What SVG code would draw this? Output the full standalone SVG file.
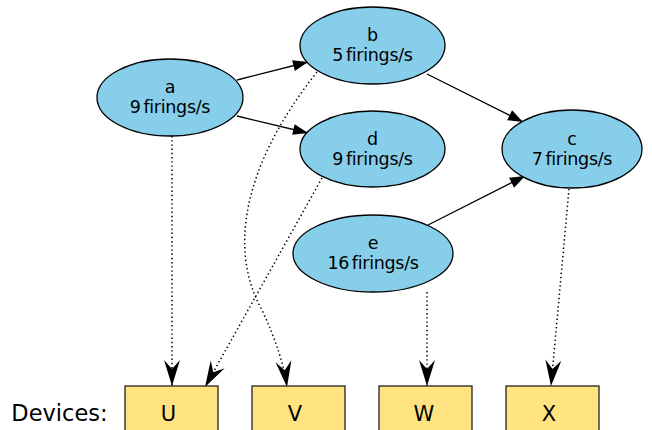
<svg xmlns="http://www.w3.org/2000/svg" width="652" height="430" viewBox="0 0 652 430">
<style>
.node ellipse{fill:#87ceeb;stroke:#000;stroke-width:1.3}
.dev rect{fill:#ffe381;stroke:#222;stroke-width:1.3}
text{font-family:"DejaVu Sans",sans-serif;fill:#000;text-anchor:middle}
.lbl{font-size:17.5px;letter-spacing:-0.3px;word-spacing:-2.5px}
.dl{font-size:21px}
.solid{fill:none;stroke:#000;stroke-width:1.3;marker-end:url(#tri)}
.dot{fill:none;stroke:#000;stroke-width:1.5;stroke-dasharray:1.4 2.8;marker-end:url(#vee)}
</style>
<defs>
<marker id="tri" markerUnits="userSpaceOnUse" markerWidth="20" markerHeight="14" viewBox="-16 -7 17 14" refX="0" refY="0" orient="auto">
<path d="M0,0 L-15,-5.5 L-15,5.5 Z" fill="#000"/>
</marker>
<marker id="vee" markerUnits="userSpaceOnUse" markerWidth="30" markerHeight="20" viewBox="-28 -10 29 20" refX="0" refY="0" orient="auto">
<path d="M0,0 L-26,-8 L-17,0 L-26,8 Z" fill="#000"/>
</marker>
</defs>
<g id="connectors">
<line class="solid" x1="237" y1="80" x2="308" y2="62"/>
<line class="solid" x1="237" y1="116" x2="308" y2="133"/>
<line class="solid" x1="427" y1="74" x2="523" y2="122"/>
<line class="solid" x1="428" y1="225" x2="525" y2="176"/>
<line class="dot" x1="172" y1="136" x2="172" y2="386"/>
<line class="dot" x1="322" y1="178" x2="205" y2="387"/>
<path class="dot" d="M317,72 C243,165 228,250 262,310 C276,340 284,365 287,387"/>
<line class="dot" x1="427" y1="292" x2="427" y2="386"/>
<line class="dot" x1="569" y1="189" x2="551" y2="386"/>
</g>
<g id="a" class="node"><ellipse cx="170" cy="97.5" rx="73" ry="38.5"/><text class="lbl" x="170" y="93">a</text><text class="lbl" x="170" y="113">9 firings/s</text></g>
<g id="b" class="node"><ellipse cx="372.5" cy="45.5" rx="72.5" ry="38.5"/><text class="lbl" x="372.5" y="41">b</text><text class="lbl" x="372.5" y="61">5 firings/s</text></g>
<g id="d" class="node"><ellipse cx="372.5" cy="149" rx="72.5" ry="38"/><text class="lbl" x="372.5" y="144.5">d</text><text class="lbl" x="372.5" y="164.5">9 firings/s</text></g>
<g id="c" class="node"><ellipse cx="572" cy="149" rx="70" ry="39"/><text class="lbl" x="572" y="144.5">c</text><text class="lbl" x="572" y="164.5">7 firings/s</text></g>
<g id="e" class="node"><ellipse cx="373" cy="253.5" rx="80" ry="38.5"/><text class="lbl" x="373" y="249">e</text><text class="lbl" x="373" y="269">16 firings/s</text></g>
<g id="devices-label"><text x="59.5" y="421" font-size="22.5px">Devices:</text></g>
<g id="U" class="dev"><rect x="125" y="386" width="93" height="50"/><text class="dl" x="168.5" y="421">U</text></g>
<g id="V" class="dev"><rect x="252" y="386" width="93" height="50"/><text class="dl" x="295" y="421">V</text></g>
<g id="W" class="dev"><rect x="379" y="386" width="93" height="50"/><text class="dl" x="424" y="421">W</text></g>
<g id="X" class="dev"><rect x="506" y="386" width="93" height="50"/><text class="dl" x="549" y="421">X</text></g>
</svg>
